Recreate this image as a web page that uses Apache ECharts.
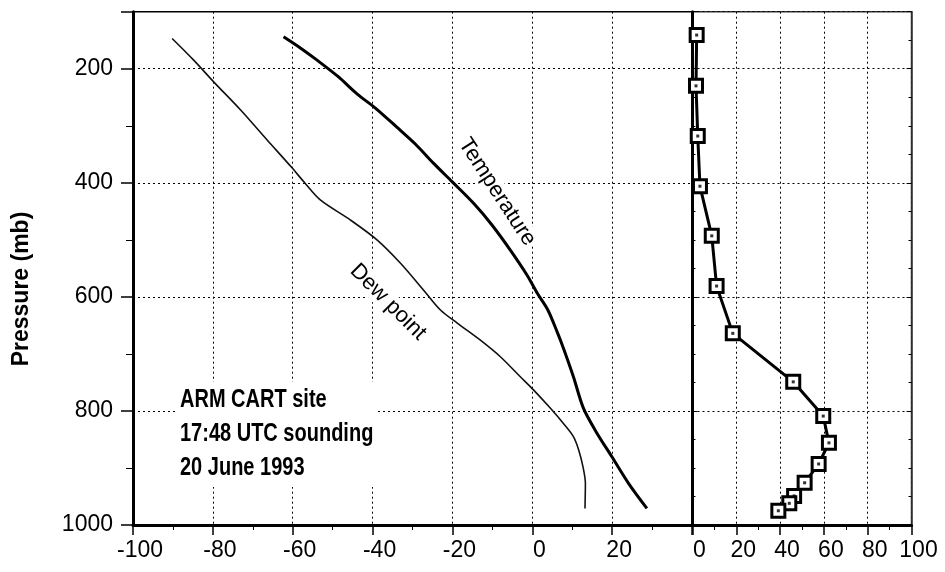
<!DOCTYPE html>
<html><head><meta charset="utf-8">
<script src="https://cdn.jsdelivr.net/npm/echarts@6/dist/echarts.min.js"></script>
<style>html,body{margin:0;padding:0;background:#fff}#c{width:945px;height:572px}</style>
</head><body><div id="c"></div>
<script>
// Temperature profile (pressure mb, temperature C)
const tempP = [144,164,185,214,244,269,302,332,366,398,436,474,518,562,594,623,661,690,740,795,839,880,927,971];
const tempT = [-62.3,-58.0,-53.9,-48.6,-43.9,-39.3,-34.0,-29.3,-24.7,-20.1,-14.7,-10.1,-5.5,-1.3,1.3,3.9,6.2,7.8,10.3,12.8,16.2,19.9,24.1,28.7];
// Dew point profile
const dewP = [147,185,223,272,325,372,400,430,465,500,541,590,623,646,676,705,740,763,795,822,845,868,898,927,971];
const dewT = [-90.2,-84.8,-79.8,-73.1,-66.4,-60.4,-57.0,-53.1,-45.6,-38.9,-33.0,-27.0,-23.0,-18.8,-13.0,-8.0,-3.0,0.3,4.5,7.8,10.3,11.6,12.7,13.3,13.2];
// Right panel profile (0-100)
const rhP = [141,230,318,406,493,581,664,749,809,856,893,926,949,962,975];
const rhV = [1.9,1.6,2.4,3.4,8.8,11,18.4,46,59.7,62.3,57.6,51.2,46.4,44.2,39.2];
// Tick labels
const yTickLabels = [200,400,600,800,1000];
const leftXLabels = [-100,-80,-60,-40,-20,0,20];
const rightXLabels = [0,20,40,60,80,100];

const zip = (xs, ys) => xs.map((x, i) => [x, ys[i]]);

const chart = echarts.init(document.getElementById('c'), null, {renderer: 'canvas'});
const FONT = 'Liberation Sans';
const dotted = {color: '#000', width: 1, type: [2, 3]};

const yCommon = {
  type: 'value', min: 100, max: 1000, inverse: true, splitNumber: 5
};

chart.setOption({
  animation: false,
  backgroundColor: '#fff',
  grid: [
    {left: 133, top: 11.7, width: 559, height: 513.3, show: true, borderColor: '#000', borderWidth: 1.5, backgroundColor: 'transparent'},
    {left: 692.5, top: 11.7, width: 219, height: 513.3, show: true, borderColor: '#333', borderWidth: 1.5, backgroundColor: 'transparent'}
  ],
  xAxis: [
    {
      type: 'value', gridIndex: 0, min: -100, max: 40, interval: 20, position: 'bottom',
      axisLine: {show: true, onZero: false, lineStyle: {color: '#000', width: 3}},
      axisTick: {show: true, length: 10, lineStyle: {color: '#000', width: 1.5}},
      minorTick: {show: true, splitNumber: 2, length: 5, lineStyle: {color: '#000', width: 1}},
      splitLine: {show: true, lineStyle: dotted},
      axisLabel: {
        margin: 14, color: '#000', fontFamily: FONT, fontSize: 23, padding: [0, 0, 0, 14],
        formatter: v => leftXLabels.includes(v) ? String(v) : ''
      }
    },
    {
      type: 'value', gridIndex: 1, min: 0, max: 100, interval: 20, position: 'bottom',
      axisLine: {show: true, onZero: false, lineStyle: {color: '#000', width: 3}},
      axisTick: {show: true, length: 10, lineStyle: {color: '#000', width: 1.5}},
      minorTick: {show: true, splitNumber: 2, length: 5, lineStyle: {color: '#000', width: 1}},
      splitLine: {show: true, lineStyle: dotted},
      axisLabel: {
        margin: 14, color: '#000', fontFamily: FONT, fontSize: 23, padding: [0, 0, 0, 14],
        formatter: v => rightXLabels.includes(v) ? String(v) : ''
      }
    }
  ],
  yAxis: [
    Object.assign({}, yCommon, {
      gridIndex: 0, position: 'left',
      axisLine: {show: true, onZero: false, lineStyle: {color: '#000', width: 3}},
      axisTick: {show: true, length: 12, lineStyle: {color: '#000', width: 1.5}},
      minorTick: {show: true, splitNumber: 2, length: 7, lineStyle: {color: '#000', width: 1}},
      splitLine: {show: true, lineStyle: dotted},
      axisLabel: {
        margin: 20, color: '#000', fontFamily: FONT, fontSize: 23,
        formatter: v => yTickLabels.includes(v) ? String(v) : ''
      }
    }),
    Object.assign({}, yCommon, {
      gridIndex: 1, position: 'left',
      axisLine: {show: true, onZero: false, lineStyle: {color: '#000', width: 3}},
      axisTick: {show: true, inside: true, length: 5, lineStyle: {color: '#000', width: 1}},
      minorTick: {show: true, splitNumber: 4, length: 3, lineStyle: {color: '#000', width: 1}},
      splitLine: {show: true, lineStyle: dotted},
      axisLabel: {show: false}
    }),
    Object.assign({}, yCommon, {
      gridIndex: 1, position: 'right',
      axisLine: {show: true, onZero: false, lineStyle: {color: '#333', width: 1.5}},
      axisTick: {show: true, inside: true, length: 5, lineStyle: {color: '#000', width: 1}},
      minorTick: {show: true, splitNumber: 4, length: 3, lineStyle: {color: '#000', width: 1}},
      splitLine: {show: false},
      axisLabel: {show: false}
    })
  ],
  series: [
    {
      name: 'Temperature', type: 'line', xAxisIndex: 0, yAxisIndex: 0,
      data: zip(tempT, tempP), showSymbol: false, smooth: 0.3,
      lineStyle: {color: '#000', width: 3}, z: 5
    },
    {
      name: 'Dew point', type: 'line', xAxisIndex: 0, yAxisIndex: 0,
      data: zip(dewT, dewP), showSymbol: false, smooth: 0.3,
      lineStyle: {color: '#111', width: 1.6}, z: 5
    },
    {
      name: 'Profile', type: 'line', xAxisIndex: 1, yAxisIndex: 1,
      data: zip(rhV, rhP), symbol: 'rect', symbolSize: 13, showSymbol: true,
      lineStyle: {color: '#000', width: 3},
      itemStyle: {color: '#fff', borderColor: '#000', borderWidth: 3}, z: 5
    },
    {
      name: 'ProfileDot', type: 'scatter', xAxisIndex: 1, yAxisIndex: 1,
      data: zip(rhV, rhP), symbol: 'rect', symbolSize: 3,
      itemStyle: {color: '#000'}, z: 6, silent: true
    }
  ],
  graphic: [
    {
      type: 'text', x: 22, y: 289, rotation: Math.PI / 2, z: 10,
      style: {
        text: 'Pressure (mb)', font: 'bold 23px "Liberation Sans", sans-serif', fill: '#000',
        align: 'center', verticalAlign: 'middle'
      }
    },
    {
      type: 'text', x: 178, y: 382, scaleY: 1.25, z: 10,
      style: {
        text: 'ARM CART site\n17:48 UTC sounding\n20 June 1993',
        font: 'bold 20px "Liberation Sans", sans-serif',
        fill: '#000', lineHeight: 27, backgroundColor: '#fff', padding: [1, 4, 2, 2]
      }
    },
    {
      type: 'text', x: 497, y: 192, rotation: -57 * Math.PI / 180, z: 10,
      style: {
        text: 'Temperature', font: '22px "Liberation Sans", sans-serif', fill: '#000',
        align: 'center', verticalAlign: 'middle', backgroundColor: '#fff', padding: [0, 2]
      }
    },
    {
      type: 'text', x: 388, y: 302, rotation: -45 * Math.PI / 180, z: 10,
      style: {
        text: 'Dew point', font: '22px "Liberation Sans", sans-serif', fill: '#000',
        align: 'center', verticalAlign: 'middle', backgroundColor: '#fff', padding: [0, 2]
      }
    }
  ]
});
</script></body></html>
